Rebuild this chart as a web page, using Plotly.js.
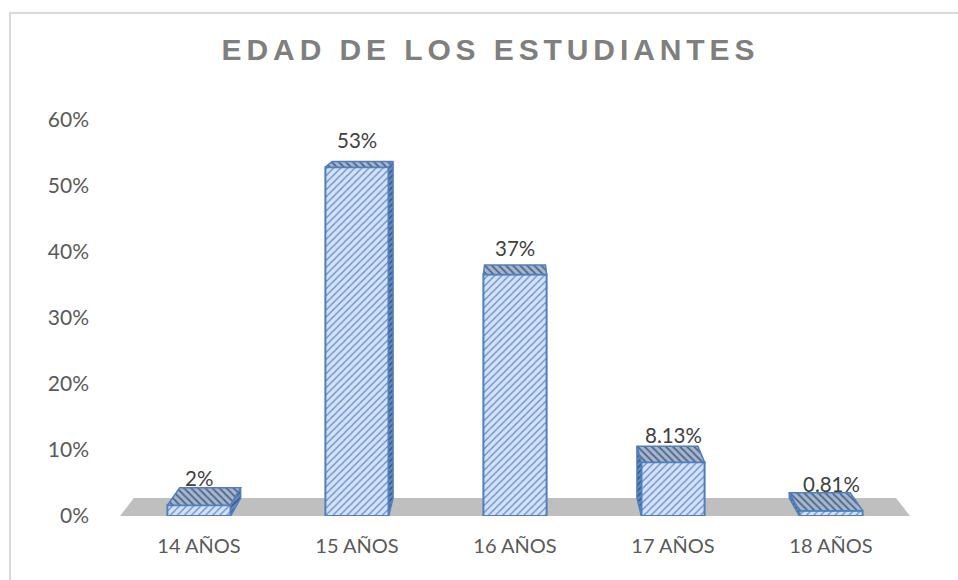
<!DOCTYPE html>
<html>
<head>
<meta charset="utf-8">
<script src="https://cdn.plot.ly/plotly-3.0.1.min.js"></script>
<style>
  html, body { margin:0; padding:0; background:#fff; }
  #wrap { position:relative; width:958px; height:580px; overflow:hidden; }
  #chart { position:absolute; left:0; top:0; width:958px; height:580px; }
  #frame { position:absolute; left:9px; top:12px; width:980px; height:600px;
           border-left:2px solid #d9d9d9; border-top:2px solid #d9d9d9; pointer-events:none; }
</style>
</head>
<body>
<div id="wrap"><div id="chart"></div><div id="frame"></div></div>
<script>
// ---- data ----
const categories = ['14 AÑOS', '15 AÑOS', '16 AÑOS', '17 AÑOS', '18 AÑOS'];
const values = [1.63, 52.85, 36.59, 8.13, 0.81];          // percent
const labels = ['2%', '53%', '37%', '8.13%', '0.81%'];
const yTickVals = [0, 10, 20, 30, 40, 50, 60];
const yTickText = ['0%', '10%', '20%', '30%', '40%', '50%', '60%'];

// ---- 3D look (perspective toward a vanishing point) ----
const idx = categories.map((c, i) => i);
const halfW = 0.2;
const VP = { x: 2.0, y: 77 };
const f = 0.0354;
const back = (x, y) => [x + f * (VP.x - x), y + f * (VP.y - y)];
const xRange = [-0.5, 4.5];

const traces = [];
traces.push({
  type: 'bar', x: idx, y: values, width: 2 * halfW, hoverinfo: 'skip',
  marker: { color: '#d6e2f4', line: { color: '#4f7fbf', width: 2 },
            pattern: { shape: '/', fgcolor: '#5b8bd0', bgcolor: '#d6e2f4', fgopacity: 1,
                       size: 5, solidity: 0.25 } },
  showlegend: false
});

idx.forEach((i) => {
  const v = values[i];
  const xl = i - halfW, xr = i + halfW;
  // side face
  let sx = null;
  if (xr < VP.x - 1e-6) sx = xr;
  else if (xl > VP.x + 1e-6) sx = xl;
  if (sx !== null) {
    const b0 = back(sx, 0), b1 = back(sx, v);
    traces.push({
      type: 'scatter', mode: 'lines', fill: 'toself', hoverinfo: 'skip', showlegend: false,
      x: [sx, sx, b1[0], b0[0], sx], y: [0, v, b1[1], b0[1], 0],
      line: { color: '#4f7fbf', width: 1.5 },
      fillcolor: '#5a7cae',
      fillpattern: { shape: '/', fgcolor: '#2f4e80', bgcolor: '#6b8bbb', size: 4, solidity: 0.35 }
    });
  }
  // top face
  const bl = back(xl, v), br = back(xr, v);
  traces.push({
    type: 'scatter', mode: 'lines', fill: 'toself', hoverinfo: 'skip', showlegend: false,
    x: [xl, xr, br[0], bl[0], xl], y: [v, v, br[1], bl[1], v],
    line: { color: '#4f7fbf', width: 1.5 },
    fillcolor: '#9fb2cc',
    fillpattern: { shape: '\\', fgcolor: '#4d6790', bgcolor: '#a8b6c9', size: 5, solidity: 0.35 }
  });
});

// floor
const fl0 = back(xRange[0], 0), fl1 = back(xRange[1], 0);
const shapes = [{
  type: 'path', xref: 'x', yref: 'y', layer: 'below',
  path: `M ${xRange[0]},0 L ${xRange[1]},0 L ${fl1[0]},${fl1[1]} L ${fl0[0]},${fl0[1]} Z`,
  fillcolor: '#bfbfbf', line: { width: 0 }
}];

const annotations = idx.map((i) => ({
  x: i, y: values[i], xref: 'x', yref: 'y', text: labels[i], showarrow: false,
  yanchor: 'middle', yshift: 27,
  font: { family: 'Lato, "Noto Sans", sans-serif', size: 20.5, color: '#404040' }
}));

const xTickFont = { family: 'Lato, "Noto Sans", sans-serif', size: 20, color: '#595959' };
const yTickFont = { family: 'Lato, "Noto Sans", sans-serif', size: 21, color: '#595959' };

const layout = {
  width: 958, height: 580,
  margin: { l: 120, r: 48, t: 120, b: 64 },
  paper_bgcolor: '#ffffff', plot_bgcolor: 'rgba(0,0,0,0)',
  title: {
    text: 'EDAD DE LOS ESTUDIANTES',
    x: 0.512, xref: 'container', xanchor: 'center',
    y: 0.914, yref: 'container', yanchor: 'middle',
    font: { family: '"Liberation Sans", Arial, sans-serif', size: 30, color: '#7f7f7f', weight: 700 }
  },
  xaxis: {
    range: xRange, tickmode: 'array', tickvals: idx, ticktext: categories,
    showgrid: false, zeroline: false, showline: false, ticks: '',
    ticklabelstandoff: 16, tickfont: xTickFont, fixedrange: true
  },
  yaxis: {
    range: [0, 60], tickmode: 'array', tickvals: yTickVals, ticktext: yTickText,
    showgrid: false, zeroline: false, showline: false, ticks: '',
    ticklabelstandoff: 30, tickfont: yTickFont, fixedrange: true
  },
  shapes: shapes,
  annotations: annotations,
  showlegend: false,
  bargap: 0
};

Plotly.newPlot('chart', traces, layout, { staticPlot: true, displayModeBar: false }).then(() => {
  document.querySelectorAll('.gtitle').forEach(el => { el.style.letterSpacing = '4.9px'; });
});
</script>
</body>
</html>
